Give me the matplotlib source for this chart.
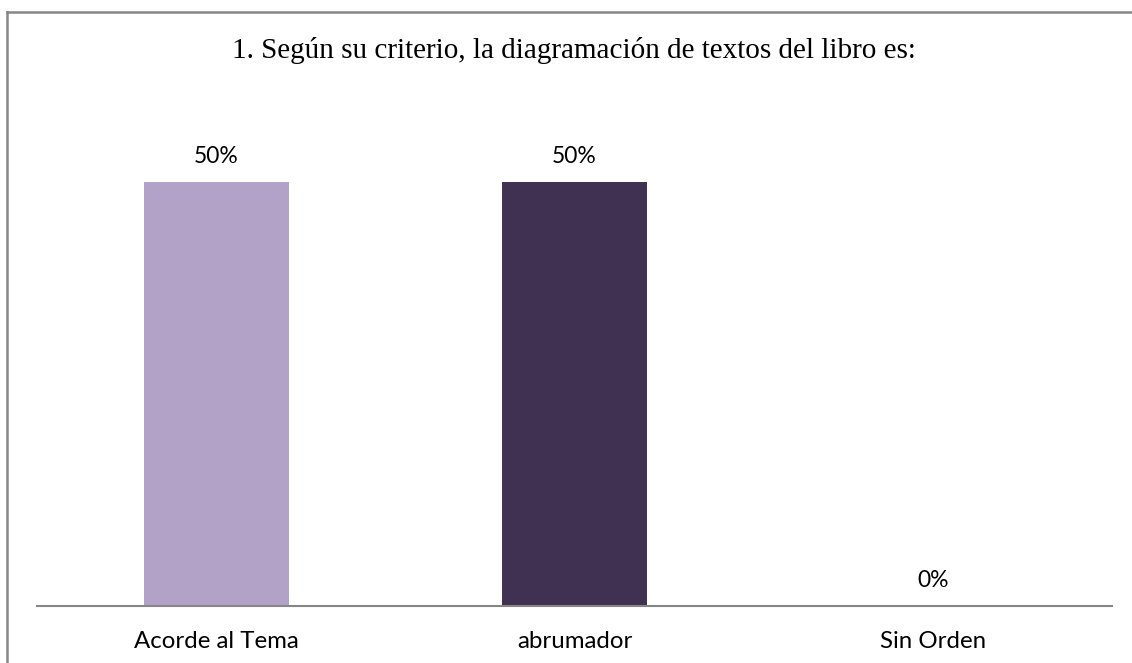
import matplotlib.pyplot as plt
from matplotlib.lines import Line2D

categories = ['Acorde al Tema', 'abrumador', 'Sin Orden']
values = [0.5, 0.5, 0.0]
labels = ['50%', '50%', '0%']
colors = ['#B3A2C7', '#403152', '#4F81BD']

fig = plt.figure(figsize=(11.32, 6.63), dpi=100)
W, H = 1132, 663

# axes placed in pixel coordinates of the reference
left, right, top, bottom = 37, 1112, 97, 606
ax = fig.add_axes([left / W, 1 - bottom / H, (right - left) / W, (bottom - top) / H])

x = range(len(categories))
ax.bar(x, values, width=0.405, color=colors)
ax.set_xlim(-0.5, 2.5)
ax.set_ylim(0, 0.6)

for i, (v, lab) in enumerate(zip(values, labels)):
    ax.text(i, v + 0.0224, lab, ha='center', va='baseline', fontsize=16.5,
            family='Lato', color='black')

ax.set_xticks(list(x))
ax.set_xticklabels(categories, fontsize=17.3, family='Lato')
plt.setp(ax.get_xticklabels(), va='baseline')
ax.tick_params(axis='x', length=0, pad=30)
ax.set_yticks([])
for s in ['top', 'right', 'left']:
    ax.spines[s].set_visible(False)
ax.spines['bottom'].set_color('#868686')
ax.spines['bottom'].set_linewidth(1.5)

fig.text(573.5 / W, 1 - 58 / H, '1. Según su criterio, la diagramación de textos del libro es:',
         ha='center', va='baseline', fontsize=21, family='Liberation Serif')

# outer frame: only top and left edges visible
fig.add_artist(Line2D([7 / W, 1], [1 - 11.5 / H, 1 - 11.5 / H], color='#868686', lw=1.8))
fig.add_artist(Line2D([7 / W, 7 / W], [0, 1 - 11.5 / H], color='#868686', lw=1.8))

fig.savefig('out.png', dpi=100)
